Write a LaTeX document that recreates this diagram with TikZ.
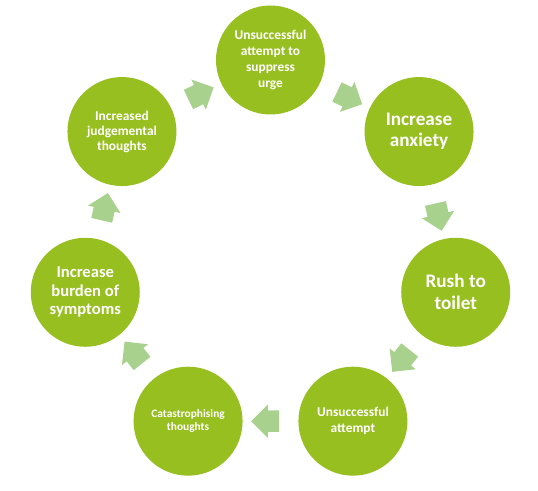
\documentclass[tikz,border=0pt]{standalone}
\usepackage{fontspec}
\setmainfont{Carlito}
\usepackage{tikz}
\usetikzlibrary{calc, shapes.arrows}
\definecolor{stagegreen}{RGB}{150,191,31}
\definecolor{arrowgreen}{RGB}{169,209,142}

\begin{document}
\begin{tikzpicture}[
    x=1pt, y=1pt,
    stage/.style={circle, fill=stagegreen, minimum size=109pt, inner sep=0pt,
      text=white, align=center, font=\bfseries},
    cyclearrow/.style={single arrow, fill=arrowgreen, draw=none,
      minimum height=28pt, minimum width=33pt, inner xsep=0pt, inner ysep=10.5pt,
      single arrow head extend=6pt},
  ]
    \useasboundingbox (-270.5,-240) rectangle (267.5,250);
    % stages of the cycle
    \node[stage, font=\bfseries\fontsize{13.4}{16}\selectfont] (suppress) at (90:190)
      {Unsuccessful\\attempt to\\suppress\\urge};
    \node[stage, font=\bfseries\fontsize{19.2}{21}\selectfont] (anxiety) at (38.571:190)
      {Increase\\anxiety};
    \node[stage, font=\bfseries\fontsize{19.2}{22}\selectfont] (toilet) at (-12.857:190)
      {Rush to\\toilet};
    \node[stage, font=\bfseries\fontsize{13.4}{16}\selectfont] (attempt) at (-64.286:190)
      {Unsuccessful\\attempt};
    \node[stage, font=\bfseries\fontsize{11.4}{12.5}\selectfont] (catastrophe) at (-115.714:190)
      {Catastrophising\\thoughts};
    \node[stage, font=\bfseries\fontsize{16.6}{18.5}\selectfont] (burden) at (-167.143:190)
      {Increase\\burden of\\symptoms};
    \node[stage, font=\bfseries\fontsize{13.4}{15}\selectfont] (judgement) at (141.429:190)
      {Increased\\judgemental\\thoughts};
    % arrows between neighbouring stages
    \node[cyclearrow, rotate=-25.714]  (a1) at ($(suppress)!0.5!(anxiety)$) {};
    \node[cyclearrow, rotate=-77.143]  (a2) at ($(anxiety)!0.5!(toilet)$) {};
    \node[cyclearrow, rotate=-128.571] (a3) at ($(toilet)!0.5!(attempt)$) {};
    \node[cyclearrow, rotate=180]      (a4) at ($(attempt)!0.5!(catastrophe)$) {};
    \node[cyclearrow, rotate=128.571]  (a5) at ($(catastrophe)!0.5!(burden)$) {};
    \node[cyclearrow, rotate=77.143]   (a6) at ($(burden)!0.5!(judgement)$) {};
    \node[cyclearrow, rotate=25.714]   (a7) at ($(judgement)!0.5!(suppress)$) {};
  \end{tikzpicture}
\end{document}
